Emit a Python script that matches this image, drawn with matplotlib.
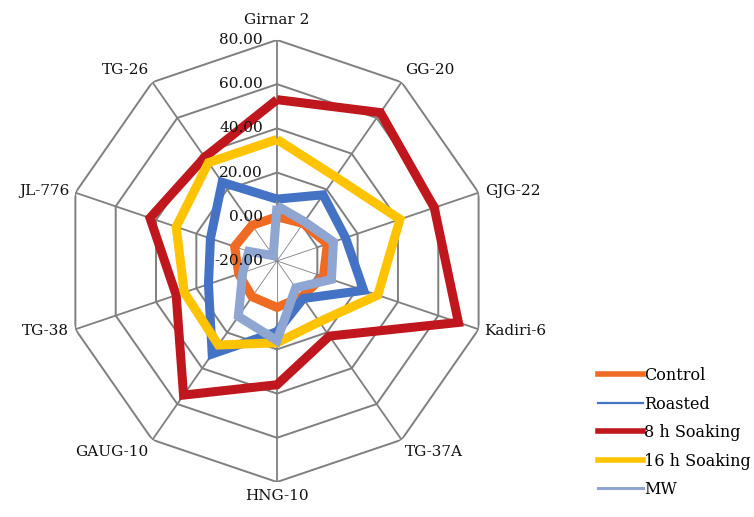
import numpy as np
import matplotlib
matplotlib.use("Agg")
import matplotlib.pyplot as plt
from matplotlib.lines import Line2D

# ── Datos ─────────────────────────────────────────────────────────────
categories = ["Girnar 2", "GG-20", "GJG-22", "Kadiri-6", "TG-37A",
              "HNG-10", "GAUG-10", "TG-38", "JL-776", "TG-26"]
control = [0, 1, 5, 3, 0, 1, 0, -1, 1, 0]
roasted = [8, 17, 14, 23, 1, 12, 32, 14, 13, 24]
soak_8h = [53, 63, 58, 70, 22, 36, 55, 30, 43, 38]
soak_16h = [35, 27, 41, 30, 14, 17, 27, 26, 30, 35]
mw = [5, 2, 8, 7, -5, 16, 11, -3, -6, -17]

series_names = ["Control", "Roasted", "8 h Soaking", "16 h Soaking", "MW"]
ring_values = [-20, 0, 20, 40, 60, 80]

# ── Estilo ────────────────────────────────────────────────────────────
COLORS = ["#EF6A22", "#4472C4", "#BF171D", "#FFC300", "#8FA6D2"]
LEGEND_LW = [4.0, 1.6, 4.0, 4.0, 2.2]
C_GRID = "#7F7F7F"
C_TEXT = "#111111"
FONT = "DejaVu Serif"

fig = plt.figure(figsize=(7.54, 5.17), dpi=100)
fig.patch.set_facecolor("white")
ax = fig.add_axes([0.0862, 0.0677, 0.5623, 0.855], projection="polar")
ax.set_aspect("auto")
ax.set_theta_zero_location("N")
ax.set_theta_direction(-1)
ax.set_ylim(ring_values[0], ring_values[-1])
ax.grid(False)
ax.spines["polar"].set_visible(False)
ax.set_xticks([])
ax.set_yticks([])
ax.patch.set_alpha(0)

n = len(categories)
theta = np.arange(n) * 2 * np.pi / n
theta_c = np.append(theta, theta[0])

# anillos poligonales
for v in ring_values[1:]:
    ax.plot(theta_c, [v] * (n + 1), color=C_GRID, lw=1.4, zorder=1)

# radios
for t in theta:
    ax.plot([t, t], [ring_values[0], ring_values[1]], color=C_GRID, lw=0.6, zorder=1)
    ax.plot([t, t], [ring_values[1], ring_values[-1]], color=C_GRID, lw=1.3, zorder=1)

# series
data = [control, roasted, soak_8h, soak_16h, mw]
for vals, col in zip(data, COLORS):
    ax.plot(theta_c, list(vals) + [vals[0]], color=col, lw=6.5,
            solid_joinstyle="miter", solid_capstyle="butt", zorder=3)

# etiquetas del eje radial (encima de las series)
for v in ring_values:
    ax.annotate(f"{v:.2f}", xy=(0, v), xytext=(-10, 0), textcoords="offset points",
                ha="right", va="center", fontsize=11, family=FONT,
                color=C_TEXT, zorder=5)

# etiquetas de categorías
for t, name in zip(theta, categories):
    s, c = np.sin(t), np.cos(t)
    ha = "left" if s > 0.1 else ("right" if s < -0.1 else "center")
    va = "bottom" if c > 0.5 else ("top" if c < -0.5 else "center")
    r = 86 if abs(s) < 0.1 and c > 0 else 83
    ax.text(t, r, name, ha=ha, va=va, fontsize=11, family=FONT, color=C_TEXT)

# leyenda
handles = [Line2D([0], [0], color=c, lw=w) for c, w in zip(COLORS, LEGEND_LW)]
fig.legend(handles, series_names, loc="upper left",
           bbox_to_anchor=(0.793, 0.29), frameon=False, borderpad=0,
           borderaxespad=0, prop={"family": FONT, "size": 11.5},
           handlelength=2.8, handletextpad=0.1, labelspacing=0.72)

plt.savefig("out.png", dpi=100, facecolor="white")
